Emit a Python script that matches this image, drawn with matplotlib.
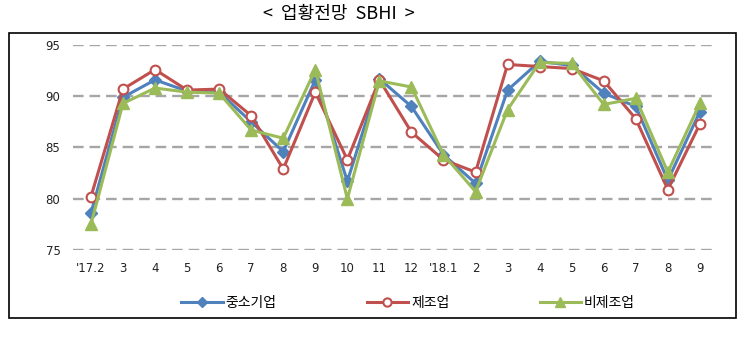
import matplotlib
matplotlib.use("Agg")
import matplotlib.pyplot as plt
from matplotlib.patches import Rectangle

categories = ["'17.2", "3", "4", "5", "6", "7", "8", "9", "10", "11", "12",
              "'18.1", "2", "3", "4", "5", "6", "7", "8", "9"]
sme = [78.6, 89.9, 91.6, 90.5, 90.4, 87.5, 84.6, 91.6, 81.7, 91.7, 89.0,
       84.3, 81.5, 90.6, 93.4, 93.0, 90.3, 89.0, 81.8, 88.5]
manuf = [80.2, 90.7, 92.6, 90.6, 90.7, 88.1, 82.9, 90.4, 83.8, 91.6, 86.5,
         83.8, 82.6, 93.1, 92.9, 92.7, 91.5, 87.8, 80.9, 87.3]
nonmanuf = [77.5, 89.3, 90.8, 90.4, 90.3, 86.7, 85.9, 92.6, 80.0, 91.5, 90.9,
            84.3, 80.7, 88.7, 93.3, 93.2, 89.2, 89.8, 82.6, 89.3]
series_names = ["중소기업", "제조업", "비제조업"]
yticks = [75, 80, 85, 90, 95]

W, H = 749, 340
fig = plt.figure(figsize=(W / 100, H / 100), dpi=100)

# outer frame
fig.patches.append(Rectangle((9 / W, 1 - 318 / H), (736 - 9) / W, (318 - 33) / H,
                             transform=fig.transFigure, fill=False,
                             edgecolor="black", linewidth=1.2))

ax = fig.add_axes([73 / W, 1 - 250 / H, (714 - 73) / W, (250 - 45) / H])
x = list(range(len(categories)))
ax.set_xlim(-0.56, 19.44)
ax.set_ylim(75, 95)

for yv in yticks:
    ax.axhline(yv, color="#A6A6A6", linewidth=1.7, linestyle=(0, (4.5, 2.5)), zorder=1)

ax.plot(x, sme, color="#4F81BD", linewidth=2.2, marker="D", markersize=6.5,
        markerfacecolor="#4F81BD", markeredgecolor="#4F81BD", clip_on=False,
        zorder=3, label=series_names[0])
ax.plot(x, manuf, color="#C0504D", linewidth=2.2, marker="o", markersize=7,
        markerfacecolor="white", markeredgecolor="#C0504D", markeredgewidth=1.5,
        clip_on=False, zorder=4, label=series_names[1])
ax.plot(x, nonmanuf, color="#9BBB59", linewidth=2.2, marker="^", markersize=9,
        markerfacecolor="#9BBB59", markeredgecolor="#9BBB59", clip_on=False,
        zorder=5, label=series_names[2])

for s in ax.spines.values():
    s.set_visible(False)
ax.set_xticks(x)
ax.set_xticklabels(categories, fontsize=8.5, color="#222222")
ax.set_yticks(yticks)
ax.set_yticklabels([str(v) for v in yticks], fontsize=8.5, color="#222222")
ax.tick_params(axis="both", length=0)
ax.tick_params(axis="x", pad=9)
ax.tick_params(axis="y", pad=9)

fig.text(339 / W, 1 - 14 / H, "<  업황전망  SBHI  >", ha="center", va="center",
         fontsize=13, fontweight="normal", family=["Noto Sans CJK KR", "DejaVu Sans"])

leg = fig.legend(loc="center", bbox_to_anchor=(408 / W, 1 - 303 / H), ncol=3,
                 frameon=False, handlelength=3.0, columnspacing=6.5,
                 handletextpad=0.2, markerscale=0.85,
                 prop={"family": ["Noto Sans CJK KR", "DejaVu Sans"], "size": 10})

fig.savefig("out.png", dpi=100)
